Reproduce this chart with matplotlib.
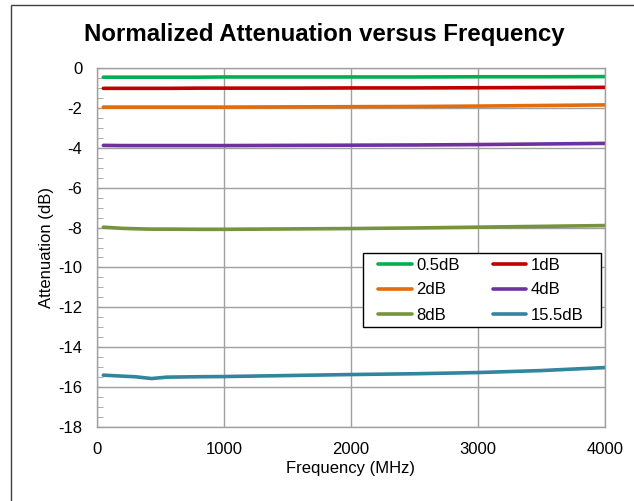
import matplotlib
matplotlib.use("Agg")
import matplotlib.pyplot as plt
from matplotlib.ticker import MultipleLocator
from matplotlib.patches import Rectangle
from matplotlib.legend_handler import HandlerLine2D
import numpy as np

plt.rcParams['font.family'] = ['Liberation Sans', 'DejaVu Sans']
plt.rcParams['axes.unicode_minus'] = False

freq = [50, 200, 300, 430, 550, 800, 1000, 1500, 2000, 2500, 3000, 3500, 4000]
s05 = [-0.46, -0.46, -0.46, -0.46, -0.46, -0.46, -0.45, -0.45, -0.45, -0.45, -0.44, -0.44, -0.43]
s1 = [-1.02, -1.02, -1.02, -1.02, -1.02, -1.01, -1.01, -1.01, -1.0, -1.0, -0.99, -0.98, -0.97]
s2 = [-1.96, -1.96, -1.96, -1.96, -1.96, -1.96, -1.96, -1.95, -1.94, -1.93, -1.91, -1.88, -1.85]
s4 = [-3.88, -3.89, -3.89, -3.89, -3.89, -3.89, -3.89, -3.88, -3.87, -3.86, -3.84, -3.81, -3.78]
s8 = [-7.98, -8.04, -8.06, -8.08, -8.08, -8.09, -8.09, -8.07, -8.05, -8.02, -7.98, -7.94, -7.9]
s155 = [-15.4, -15.45, -15.48, -15.57, -15.5, -15.48, -15.47, -15.42, -15.37, -15.33, -15.27, -15.17, -15.02]

labels = ['0.5dB', '1dB', '2dB', '4dB', '8dB', '15.5dB']
colors = ['#00B050', '#C00000', '#E46C0A', '#7030A0', '#77933C', '#31859C']
series = [s05, s1, s2, s4, s8, s155]


class ShiftedLineHandler(HandlerLine2D):
    def get_xdata(self, legend, xdescent, ydescent, width, height, fontsize):
        xd = np.array([-xdescent + width * 0.25, -xdescent + width])
        return xd, xd


W, H = 634, 501
fig = plt.figure(figsize=(W / 100, H / 100), dpi=100)
ax = fig.add_axes([97/W, 1 - 427/H, 508/W, 359/H])

handles = []
for y, lab, c in zip(series, labels, colors):
    h, = ax.plot(freq, y, color=c, lw=2.6, label=lab, solid_capstyle='round')
    handles.append(h)

ax.set_xlim(0, 4000)
ax.set_ylim(-18, 0)
ax.xaxis.set_major_locator(MultipleLocator(1000))
ax.yaxis.set_major_locator(MultipleLocator(2))
ax.yaxis.set_minor_locator(MultipleLocator(0.5))
ax.grid(True, which='major', color='#A0A0A0', lw=1.0)
ax.set_axisbelow(True)
for sp in ax.spines.values():
    sp.set_color('#A0A0A0')
    sp.set_linewidth(1.0)
ax.tick_params(axis='y', which='both', direction='in', length=4, color='#A0A0A0', labelsize=12, pad=10.5)
ax.tick_params(axis='x', which='both', length=0, labelsize=12, pad=11)

ax.set_xlabel('Frequency (MHz)', fontsize=12, labelpad=3)
ax.set_ylabel('Attenuation (dB)', fontsize=12, labelpad=3)
fig.text(324/W, 1 - 34/H, 'Normalized Attenuation versus Frequency', ha='center', va='center',
         fontsize=17.3, fontweight='bold')

# legend frame drawn separately
fig.patches.append(Rectangle((363/W, 1 - 327/H), 238/W, 74/H, transform=fig.transFigure,
                             fill=True, facecolor='white', edgecolor='black', lw=1.0, zorder=4))
order = [0, 2, 4, 1, 3, 5]
leg = fig.legend([handles[i] for i in order], [labels[i] for i in order], ncol=2, loc='upper left',
                 bbox_to_anchor=(367/W, 1 - 257.5/H), bbox_transform=fig.transFigure,
                 frameon=False, fontsize=12, handlelength=2.7, handletextpad=0.25,
                 borderaxespad=0, borderpad=0, labelspacing=0.6, columnspacing=1.3,
                 handler_map={type(handles[0]): ShiftedLineHandler()})
leg.set_zorder(5)

fig.patches.append(Rectangle((11/W, -0.1), 1.2, 1 - 5/H + 0.1, transform=fig.transFigure,
                             fill=False, edgecolor='#404040', lw=1.0))

fig.savefig('out.png', dpi=100)
